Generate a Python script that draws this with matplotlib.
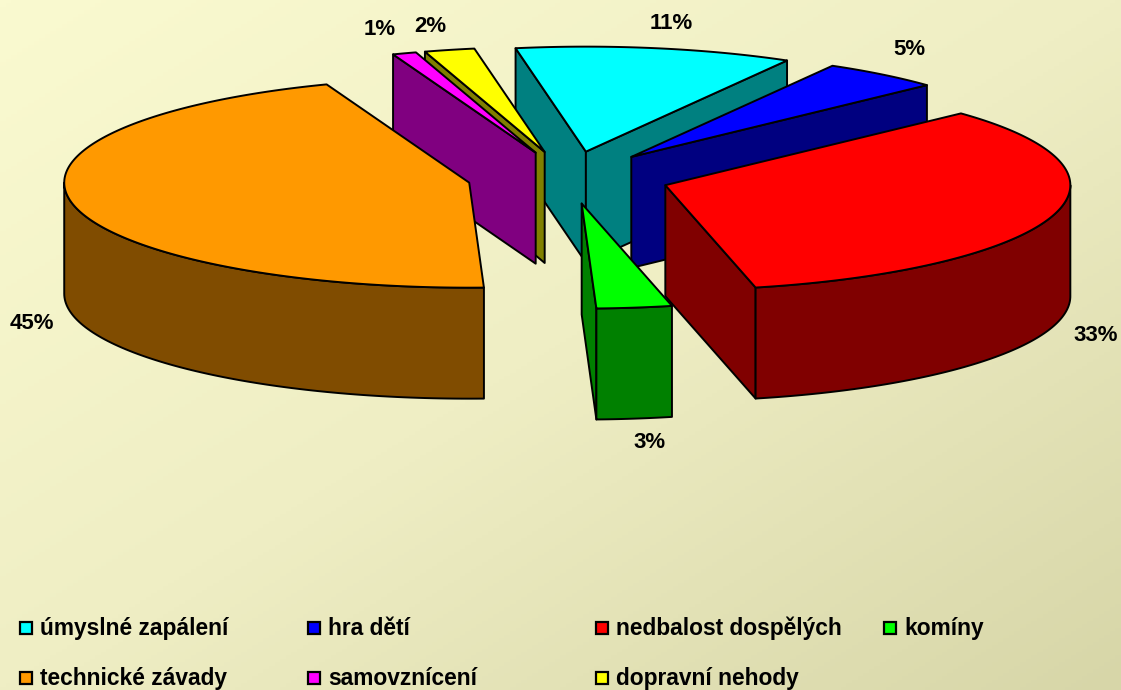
import numpy as np
import matplotlib
matplotlib.use('Agg')
import matplotlib.pyplot as plt
from matplotlib.colors import LinearSegmentedColormap
from matplotlib.patches import Polygon, Rectangle

categories = ['úmyslné zapálení', 'hra dětí', 'nedbalost dospělých', 'komíny',
              'technické závady', 'samovznícení', 'dopravní nehody']
# shares estimated from the slice edges, labels show them rounded
values = [11.05, 4.75, 33.4, 3.0, 44.85, 0.95, 2.0]

top_colors = ['#00FFFF', '#0000FF', '#FF0000', '#00FF00', '#FF9900', '#FF00FF', '#FFFF00']
side_colors = ['#008080', '#000080', '#800000', '#008000', '#804C00', '#800080', '#808000']

# layout of the pie, in pixels of the picture
cx, cy = 568.5, 177.5
rx, ry = 405, 105
depth = 111
explode = 0.25
start_angle = -10

label_xy = [(671, 29), (909, 55), (1096, 341), (649, 448), (32, 329), (380, 35), (430, 32)]
draw_order = [0, 6, 5, 1, 4, 2, 3]

plt.rcParams['font.family'] = ['Liberation Sans', 'DejaVu Sans']
plt.rcParams['font.weight'] = 'bold'

fig = plt.figure(figsize=(11.21, 6.90), dpi=100)
ax = fig.add_axes([0, 0, 1, 1])
ax.set_xlim(0, 1121)
ax.set_ylim(690, 0)
ax.axis('off')

# diagonal background
bg_cmap = LinearSegmentedColormap.from_list('bg', ['#FAFAD0', '#EFEEC4', '#D7D6A8'])
xx, yy = np.meshgrid(np.linspace(0, 1, 200), np.linspace(0, 1, 200))
ax.imshow((xx + yy) / 2, cmap=bg_cmap, extent=(0, 1121, 690, 0), aspect='auto', zorder=0)


def ell(a, ox, oy):
    t = np.radians(a)
    return np.column_stack([ox + rx * np.sin(t), oy - ry * np.cos(t)])


def shape(pts, color, z):
    ax.add_patch(Polygon(pts, closed=True, facecolor=color, edgecolor='black',
                         linewidth=1.4, joinstyle='round', zorder=z))


edges = start_angle + np.concatenate([[0], np.cumsum(values)]) * 360.0 / sum(values)

for rank, i in enumerate(draw_order):
    a0, a1 = edges[i], edges[i + 1]
    mid = np.radians((a0 + a1) / 2)
    ox = cx + explode * rx * np.sin(mid)
    oy = cy - explode * ry * np.cos(mid)
    z = 2 + rank
    down = np.array([0, depth])
    apex = np.array([ox, oy])

    # the flat cut faces, only those turned to the viewer
    if np.sin(np.radians(a0)) < 0:
        p = ell(a0, ox, oy)[0]
        shape([apex, p, p + down, apex + down], side_colors[i], z)
    if np.sin(np.radians(a1)) > 0:
        p = ell(a1, ox, oy)[0]
        shape([apex, p, p + down, apex + down], side_colors[i], z)

    # round outer wall
    w0, w1 = max(a0, 90), min(a1, 270)
    if w1 > w0:
        arc = ell(np.linspace(w0, w1, 90), ox, oy)
        shape(np.vstack([arc, arc[::-1] + down]), side_colors[i], z)

    # top face
    arc = ell(np.linspace(a0, a1, 180), ox, oy)
    shape(np.vstack([apex, arc]), top_colors[i], z)

for v, (x, y) in zip(values, label_xy):
    ax.text(x, y, '%d%%' % round(v), fontsize=16, ha='center', va='baseline', color='black', zorder=20)

# legend, two rows on a four column grid
for i, name in enumerate(categories):
    row = 0 if i < 4 else 1
    col = i if i < 4 else i - 4
    x = 20 + 288 * col
    y = 628 + 50 * row
    ax.add_patch(Rectangle((x, y - 6), 12, 12, facecolor=top_colors[i], edgecolor='black',
                           linewidth=1.6, zorder=20))
    ax.text(x + 20, y + 7, name, fontsize=16.4, ha='left', va='baseline', color='black', zorder=20)

fig.savefig('out.png', dpi=100)
